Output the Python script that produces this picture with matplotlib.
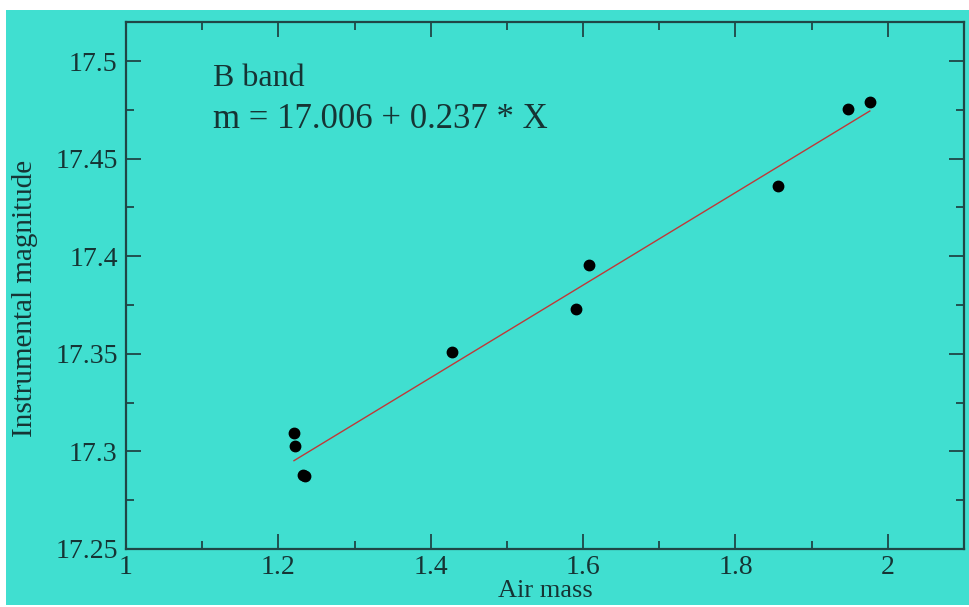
import matplotlib
matplotlib.use("Agg")
import matplotlib.pyplot as plt
from matplotlib.patches import Rectangle
from matplotlib.ticker import MultipleLocator, FixedLocator

# Measured air mass and instrumental B magnitude
air_mass = [1.2205, 1.2218, 1.2323, 1.2345, 1.4278, 1.5906, 1.6076, 1.8556, 1.9475, 1.9764]
magnitude = [17.3096, 17.3029, 17.2880, 17.2875, 17.3511, 17.3732, 17.3953, 17.4359, 17.4753, 17.4789]

# Extinction fit m = a + k * X
fit_a = 17.006
fit_k = 0.237

x_ticks = [1.0, 1.2, 1.4, 1.6, 1.8, 2.0]
x_tick_labels = ["1", "1.2", "1.4", "1.6", "1.8", "2"]
y_ticks = [17.25, 17.3, 17.35, 17.4, 17.45, 17.5]
y_tick_labels = ["17.25", "17.3", "17.35", "17.4", "17.45", "17.5"]

band_label = "B band"
fit_label = "m = 17.006 + 0.237 * X"

bg = "#40dfd0"
ink = "#163434"
spine_col = "#1f4646"

plt.rcParams["font.family"] = ["Liberation Serif", "DejaVu Serif"]

W, H = 969, 607
fig = plt.figure(figsize=(W / 100, H / 100), dpi=100, facecolor="white")
fig.patches.append(Rectangle((6 / W, 2 / H), 1 - 6 / W, (H - 12) / H,
                             transform=fig.transFigure, facecolor=bg,
                             edgecolor="none", zorder=-10))

ax = fig.add_axes([126 / W, 1 - 549 / H, (964 - 126) / W, (549 - 22) / H])
ax.set_facecolor(bg)
ax.set_xlim(1.0, 2.1)
ax.set_ylim(17.25, 17.52)

ax.xaxis.set_major_locator(FixedLocator(x_ticks))
ax.set_xticklabels(x_tick_labels)
ax.xaxis.set_minor_locator(MultipleLocator(0.1))
ax.yaxis.set_major_locator(FixedLocator(y_ticks))
ax.set_yticklabels(y_tick_labels)
ax.yaxis.set_minor_locator(MultipleLocator(0.025))

ax.tick_params(which="both", direction="in", top=True, right=True,
               color=spine_col, width=1.3)
ax.tick_params(which="major", length=11, labelsize=20, labelcolor=ink, pad=6)
ax.tick_params(axis="x", which="major", pad=4)
ax.tick_params(which="minor", length=5.5)
for s in ax.spines.values():
    s.set_color(spine_col)
    s.set_linewidth(1.6)

# Fitted line over the observed air-mass range
x0, x1 = min(air_mass), max(air_mass)
ax.plot([x0, x1], [fit_a + fit_k * x0, fit_a + fit_k * x1],
        color="#c03838", lw=1.0, zorder=2)
ax.plot(air_mass, magnitude, "o", color="black", ms=7.5, zorder=3)

ax.text(0.104, 0.8786, band_label, transform=ax.transAxes, fontsize=23,
        color=ink, va="baseline", ha="left")
ax.text(0.104, 0.799, fit_label, transform=ax.transAxes, fontsize=25,
        color=ink, va="baseline", ha="left")

ax.set_xlabel("Air mass", fontsize=19, color=ink, labelpad=0)
ax.set_ylabel("Instrumental magnitude", fontsize=21, color=ink)
ax.yaxis.set_label_coords(-0.105, 0.476)

fig.savefig("out.png", dpi=100, facecolor="white")
